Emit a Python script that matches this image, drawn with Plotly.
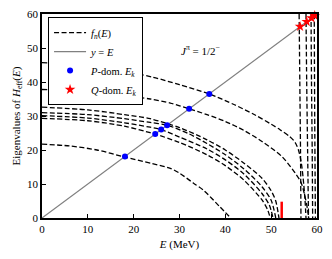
import plotly.graph_objects as go

# ---- data ----
curve_A_E = [0, 8, 16, 24.2, 30, 36.5, 42, 46.5, 50, 52, 54, 55.2, 56, 56.6, 57.1, 57.4, 57.6]
curve_A_y = [45.7, 45.0, 43.6, 41.4, 39.2, 36.5, 33.3, 30.3, 27.6, 25.9, 24.0, 22.3, 19.8, 16.0, 10.0, 5.0, 0.0]

curve_B_E = [0, 8, 16, 23.6, 28, 32.1, 36, 40, 44, 48, 52.4, 55.3, 56.5, 57.3, 57.9, 58.2]
curve_B_y = [37.8, 37.3, 36.3, 35.0, 33.8, 32.1, 30.4, 28.4, 25.8, 22.5, 18.0, 13.1, 10.5, 6.8, 2.8, 0.0]

curve_C_E = [0, 10, 18, 23.6, 30, 36, 40, 44, 48, 50, 51.0, 51.7]
curve_C_y = [32.6, 31.8, 30.4, 29.2, 26.6, 23.0, 20.0, 16.2, 11.7, 8.0, 5.0, 0.0]

curve_D_E = [0, 10, 18, 23.6, 27.3, 32, 36, 40, 44, 48, 50, 51.0]
curve_D_y = [31.0, 30.4, 29.2, 28.1, 27.3, 24.8, 21.9, 18.6, 14.5, 9.2, 5.2, 0.0]

curve_E_E = [0, 10, 18, 23.6, 26.0, 30, 36, 40, 44, 48, 49.6, 50.4]
curve_E_y = [30.1, 29.4, 28.0, 26.7, 26.0, 23.8, 20.3, 17.1, 13.0, 7.2, 3.8, 0.0]

curve_F_E = [0, 10, 18, 23.6, 24.7, 30, 36, 40, 44, 48, 49.2, 49.8]
curve_F_y = [29.3, 28.6, 27.0, 25.1, 24.7, 22.2, 18.6, 15.4, 11.2, 5.3, 2.5, 0.0]

curve_G_E = [0, 6, 12, 18.1, 24, 28, 30, 33, 35.2, 38.8, 41.2]
curve_G_y = [21.7, 21.2, 20.0, 17.9, 16.0, 14.6, 13.2, 10.3, 8.2, 3.3, 0.0]

pole_1_E = [56.1, 56.25, 56.4, 56.5]
pole_1_y = [60, 40, 20, 0]
pole_2_E = [57.6, 57.75, 57.95, 58.15]
pole_2_y = [60, 40, 20, 0]
pole_3_E = [58.7, 58.8, 58.95, 59.05]
pole_3_y = [60, 40, 20, 0]
pole_4_E = [59.4, 59.5, 59.65]
pole_4_y = [60, 30, 0]

diag_E = [0, 60]
diag_y = [0, 60]

p_dom_E = [18.1, 24.7, 26.0, 27.3, 32.1, 36.5]
q_dom_E = [56.3, 57.75, 58.8, 59.5]

red_bar_E = [52.3, 52.3]
red_bar_y = [0, 4.8]

x_ticks = [0, 10, 20, 30, 40, 50, 60]
y_ticks = [0, 10, 20, 30, 40, 50, 60]

FONT = "Liberation Serif"
dash_style = dict(color="black", width=1.3, dash="5px,2.5px")

fig = go.Figure()

curves = [
    (curve_A_E, curve_A_y), (curve_B_E, curve_B_y), (curve_C_E, curve_C_y),
    (curve_D_E, curve_D_y), (curve_E_E, curve_E_y), (curve_F_E, curve_F_y),
    (curve_G_E, curve_G_y), (pole_1_E, pole_1_y), (pole_2_E, pole_2_y),
    (pole_3_E, pole_3_y), (pole_4_E, pole_4_y),
]
for i, (xs, ys) in enumerate(curves):
    fig.add_trace(go.Scatter(
        x=xs, y=ys, mode="lines", line=dict(shape="spline", smoothing=0.8, **dash_style),
        name="<i>f<sub>n</sub></i>(<i>E</i>)", showlegend=(i == 0),
        legendrank=1, hoverinfo="skip"))

fig.add_trace(go.Scatter(
    x=diag_E, y=diag_y, mode="lines", line=dict(color="gray", width=1.2),
    name="<i>y</i> = <i>E</i>", legendrank=2))

fig.add_trace(go.Scatter(
    x=red_bar_E, y=red_bar_y, mode="lines", line=dict(color="red", width=2.5),
    showlegend=False))

fig.add_trace(go.Scatter(
    x=p_dom_E, y=p_dom_E, mode="markers",
    marker=dict(color="blue", size=6, symbol="circle"),
    name="<i>P</i>-dom. <i>E<sub>k</sub></i>", legendrank=3))

fig.add_trace(go.Scatter(
    x=q_dom_E, y=q_dom_E, mode="markers", cliponaxis=False,
    marker=dict(color="red", size=8, symbol="star"),
    name="<i>Q</i>-dom. <i>E<sub>k</sub></i>", legendrank=4))

fig.add_annotation(
    x=34.5, y=49.5, xref="x", yref="y", showarrow=False,
    text="<i>J</i><sup>π</sup> = 1/2<sup>−</sup>",
    font=dict(family=FONT, size=11, color="black"))

axis_common = dict(
    showline=True, linecolor="black", linewidth=1.5, mirror=True,
    ticks="inside", ticklen=4, tickcolor="black", tickwidth=1,
    showgrid=False, zeroline=False, automargin=False,
    tickfont=dict(family=FONT, size=11, color="black"),
)

fig.update_layout(
    width=332, height=259,
    margin=dict(l=42, r=15, t=14, b=41, autoexpand=False),
    paper_bgcolor="white", plot_bgcolor="white",
    font=dict(family=FONT, size=11, color="black"),
    xaxis=dict(range=[0, 60], tickvals=x_ticks,
               title=dict(text="<i>E</i> (MeV)", font=dict(family=FONT, size=11), standoff=6),
               **axis_common),
    yaxis=dict(range=[0, 60], tickvals=y_ticks,
               title=dict(text="Eigenvalues of <i>H</i><sub>eff</sub>(<i>E</i>)",
                          font=dict(family=FONT, size=11), standoff=4),
               **axis_common),
    legend=dict(
        x=0.022, y=0.985, xanchor="left", yanchor="top",
        bgcolor="white", bordercolor="black", borderwidth=1,
        font=dict(family=FONT, size=10.5), tracegroupgap=0,
        itemwidth=32,
    ),
    showlegend=True,
)

fig.write_html("out.html", config={"displayModeBar": False},
               post_script="document.body.style.margin='0px';")
